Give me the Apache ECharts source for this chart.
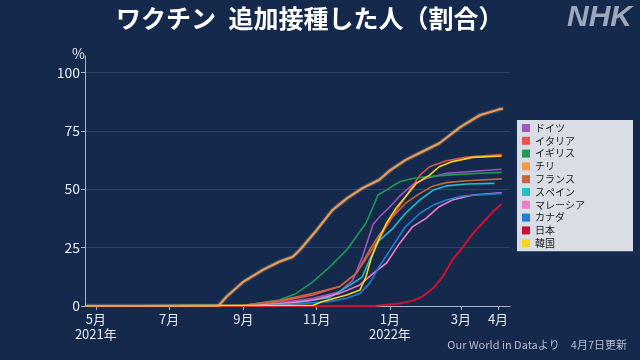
<!DOCTYPE html>
<html><head><meta charset="utf-8">
<script src="https://cdn.jsdelivr.net/npm/echarts@6/dist/echarts.min.js"></script>
<style>html,body{margin:0;padding:0;background:#14294b;}#c{width:640px;height:360px;}</style>
</head><body><div id="c"></div>
<script>
const seriesNames = ['ドイツ','イタリア','イギリス','チリ','フランス','スペイン','マレーシア','カナダ','日本','韓国'];
const germany = [['2021-04-22',0],['2021-09-01',0.2],['2021-10-01',1.4],['2021-10-29',3.3],['2021-11-20',6.1],['2021-12-01',11],['2021-12-09',21],['2021-12-18',35],['2021-12-23',38],['2022-01-01',42.5],['2022-01-09',47],['2022-01-20',52],['2022-01-31',54.6],['2022-02-17',56.8],['2022-04-04',58.5]];
const italy = [['2021-04-22',0],['2021-09-10',0.2],['2021-10-01',1.9],['2021-10-29',4.7],['2021-11-20',8.3],['2021-12-04',14],['2021-12-15',22.5],['2021-12-23',29],['2022-01-03',38.2],['2022-01-14',46.8],['2022-01-26',56],['2022-02-03',59.6],['2022-02-17',62.2],['2022-03-06',63.8],['2022-04-04',64.8]];
const uk = [['2021-04-22',0],['2021-09-03',0.4],['2021-10-01',2.6],['2021-10-15',5.4],['2021-10-29',10.4],['2021-11-12',16.8],['2021-11-26',24],['2021-12-12',35.4],['2021-12-18',42.5],['2021-12-22',47.5],['2021-12-29',49.6],['2022-01-09',53.2],['2022-01-20',54.6],['2022-01-31',55.3],['2022-02-17',56],['2022-03-17',56.8],['2022-04-04',57.2]];
const chile = [['2021-04-22',0],['2021-08-11',0],['2021-08-18',4],['2021-09-01',10.4],['2021-09-17',15.4],['2021-10-01',19],['2021-10-12',21],['2021-10-18',24],['2021-11-01',32.5],['2021-11-14',41],['2021-11-26',46],['2021-12-09',50.4],['2021-12-23',54],['2022-01-01',58],['2022-01-14',62.5],['2022-01-31',66.8],['2022-02-11',69.6],['2022-03-01',76.7],['2022-03-17',81.7],['2022-04-01',84],['2022-04-05',84.5]];
const france = [['2021-04-22',0],['2021-09-01',0.3],['2021-10-01',2.3],['2021-10-29',5.4],['2021-11-20',8.3],['2021-12-04',14],['2021-12-15',24],['2021-12-23',30.4],['2022-01-03',38],['2022-01-14',44],['2022-01-26',48.2],['2022-02-06',51.4],['2022-02-17',52.8],['2022-03-06',53.6],['2022-04-04',54.4]];
const spain = [['2021-04-22',0],['2021-09-15',0.2],['2021-10-15',1.4],['2021-11-12',3.7],['2021-12-01',9.7],['2021-12-09',12.5],['2021-12-15',19.7],['2021-12-23',28],['2022-01-03',33],['2022-01-14',39.7],['2022-01-26',45.4],['2022-02-06',49.6],['2022-02-17',51.4],['2022-03-06',52.2],['2022-03-29',52.5]];
const malaysia = [['2021-04-22',0],['2021-09-10',0.2],['2021-10-01',0.9],['2021-10-29',2.6],['2021-11-20',5.4],['2021-12-07',9],['2021-12-18',14],['2021-12-29',18.3],['2022-01-09',26.8],['2022-01-20',34],['2022-01-31',37.5],['2022-02-11',42.5],['2022-02-22',45.4],['2022-03-11',47.5],['2022-04-04',48.5]];
const canada = [['2021-04-22',0],['2021-09-20',0.2],['2021-10-15',0.9],['2021-11-12',1.9],['2021-11-26',3.3],['2021-12-07',5.4],['2021-12-15',9.7],['2021-12-23',16.8],['2022-01-03',25.4],['2022-01-14',34],['2022-01-26',39.7],['2022-02-06',43.2],['2022-02-17',45.4],['2022-03-03',47.1],['2022-04-04',48.2]];
const japan = [['2021-04-22',0],['2021-12-18',0],['2022-01-09',1.1],['2022-01-20',2.3],['2022-01-28',4],['2022-02-06',7.6],['2022-02-14',12.6],['2022-02-22',19.7],['2022-03-03',25.4],['2022-03-11',31],['2022-03-19',35.4],['2022-03-28',40.4],['2022-04-04',43.7]];
const korea = [['2021-04-22',0],['2021-10-29',0.3],['2021-11-06',1.9],['2021-11-26',4.7],['2021-12-07',6.8],['2021-12-12',12.5],['2021-12-16',19.7],['2021-12-20',25.4],['2021-12-29',35.4],['2022-01-06',41.8],['2022-01-14',46.8],['2022-01-23',52.5],['2022-02-03',56],['2022-02-11',59.6],['2022-02-22',61.8],['2022-03-11',63.6],['2022-04-04',64.2]];
const xTickDates = ['2021-05-01','2021-07-01','2021-09-01','2021-11-01','2022-01-01','2022-03-01','2022-04-01'];
const xTickLabels = ['5月\n2021年','7月','9月','11月','1月\n2022年','3月','4月'];
const yTicks = [0,25,50,75,100];
const colors = ['#a055c0','#e2554c','#1f9a55','#f59a48','#c8643c','#22bec6','#f07ccc','#1f7fd6','#d0102e','#ffd21a'];

function ts(s){const p=s.split('-').map(Number);return Date.UTC(p[0],p[1]-1,p[2]);}
const xTickTimes = xTickDates.map(ts);
const allData = [germany,italy,uk,chile,france,spain,malaysia,canada,japan,korea];

const chart = echarts.init(document.getElementById('c'), null, {renderer:'canvas'});
const font = '"Noto Sans CJK JP", "Noto Sans", sans-serif';
chart.setOption({
  backgroundColor:'#14294b',
  animation:false,
  textStyle:{fontFamily:font},
  title:[
    {text:'ワクチン\u2002追加接種した人（割合）', left:111, top:1, textStyle:{color:'#ffffff', fontSize:25, fontWeight:'bold', fontFamily:font}},
    {text:'Our World in Dataより　4月7日更新', right:8, bottom:5, textStyle:{color:'#b4bccb', fontSize:11, fontWeight:'normal', fontFamily:font}}
  ],
  graphic:[{type:'text', right:8, top:3, style:{text:'NHK', fill:'#9ea8ba', font:'italic 900 30px "Liberation Sans", Arial, sans-serif'}}],
  legend:{
    orient:'vertical', left:517, top:120, backgroundColor:'#d9dde6', padding:[3,48,3,5],
    itemWidth:8, itemHeight:8, itemGap:2.8, icon:'rect',
    textStyle:{color:'#1a1a1a', fontSize:10, lineHeight:10, fontFamily:font},
    data:seriesNames
  },
  grid:{left:85, right:130, top:56, bottom:54},
  xAxis:{
    type:'value', min:ts('2021-04-22'), max:ts('2022-04-11'),
    axisLine:{show:true, onZero:false, lineStyle:{color:'#a8b2c4', width:1}},
    axisTick:{show:true, length:4, customValues:xTickTimes, lineStyle:{color:'#a8b2c4'}},
    axisLabel:{customValues:xTickTimes, color:'#e6eaf0', fontSize:13, lineHeight:15, margin:6, fontFamily:font,
      formatter:function(v){let best=0,bd=Infinity;xTickTimes.forEach((t,i)=>{const d=Math.abs(t-v);if(d<bd){bd=d;best=i;}});return xTickLabels[best];}},
    splitLine:{show:false}
  },
  yAxis:{
    type:'value', min:0, max:107,
    name:'%', nameLocation:'end', nameGap:2,
    nameTextStyle:{color:'#e6eaf0', fontSize:14, align:'right', verticalAlign:'middle', fontFamily:font},
    axisLine:{show:true, lineStyle:{color:'#a8b2c4', width:1}},
    axisTick:{show:true, length:4, customValues:yTicks, lineStyle:{color:'#a8b2c4'}},
    axisLabel:{customValues:yTicks, color:'#e6eaf0', fontSize:14, margin:5, fontFamily:font},
    splitLine:{show:true, lineStyle:{color:'#2c4368', width:1}}
  },
  series: seriesNames.map((n,i)=>({
    name:n, type:'line', data:allData[i].map(d=>[ts(d[0]), d[1]]), showSymbol:false, symbol:'none', smooth:false,
    color:colors[i],
    lineStyle: n==='チリ' ? {width:1.8, color:colors[i], shadowColor:'rgba(255,225,190,0.9)', shadowBlur:2}
             : {width: n==='日本' ? 2 : 1.6, color:colors[i]},
    z: n==='チリ' ? 3 : 2
  }))
});
</script></body></html>
